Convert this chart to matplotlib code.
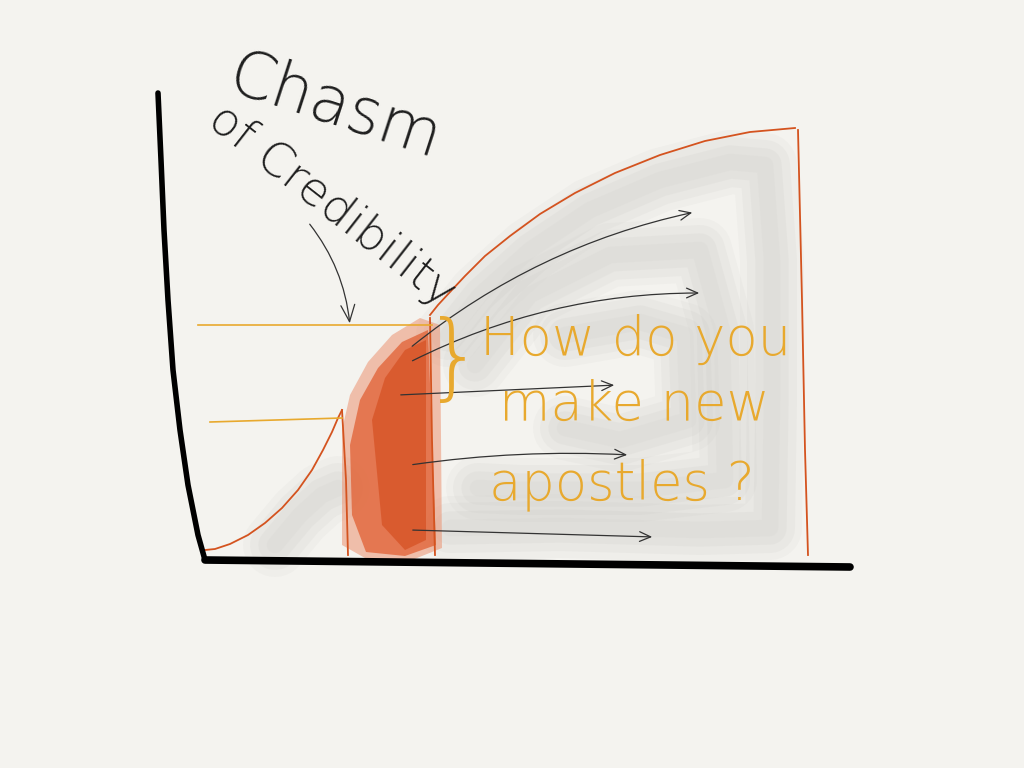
"""
Chasm of Credibility – hand-drawn style sketch recreated with matplotlib
"""

import numpy as np
import matplotlib.pyplot as plt
from matplotlib.patches import Polygon

# ── Sketch data (page coordinates, y grows downward) ─────────────────────────
y_axis_x = [158, 161, 164, 168, 173, 180, 188, 198, 205]
y_axis_y = [93, 160, 230, 300, 370, 430, 485, 535, 560]
x_axis_x = [205, 850]
x_axis_y = [560, 567]

early_x = [205, 215, 230, 248, 265, 282, 298, 312, 323, 332, 338, 342]
early_y = [550, 549, 544, 535, 523, 508, 490, 470, 450, 432, 418, 410]
early_drop_x = [342, 346, 348]
early_drop_y = [410, 480, 555]

main_x = [430, 438, 450, 465, 485, 510, 540, 575, 615, 660, 705, 750, 795]
main_y = [315, 305, 292, 276, 256, 236, 214, 193, 173, 155, 141, 132, 128]
main_drop_x = [798, 802, 805, 808]
main_drop_y = [130, 300, 450, 555]
chasm_edge_x = [430, 432, 435]
chasm_edge_y = [318, 440, 555]

level_hi_x, level_hi_y = [198, 432], [325, 325]
level_lo_x, level_lo_y = [210, 342], [422, 418]

arrow_start = [(410, 348), (410, 362), (398, 395), (410, 465), (410, 530)]
arrow_end = [(695, 212), (702, 293), (617, 385), (630, 455), (655, 537)]
arrow_bend = [-0.12, -0.12, 0.0, -0.05, 0.0]

question_lines = ["How do you", "make new", "apostles ?"]
question_y = [340, 405, 485]
question_x = [636, 634, 622]

# ── Style ─────────────────────────────────────────────────────────────────────
BG = "#f4f3ef"
INK = "#1e1e1e"
RUST = "#d4531f"
AMBER = "#e8a92e"
GREY = "#c4c3bf"

plt.rcParams.update({"font.family": "DejaVu Sans"})

fig = plt.figure(figsize=(10.24, 7.68), dpi=100, facecolor=BG)
ax = fig.add_axes([0, 0, 1, 1])
ax.set_xlim(0, 1024)
ax.set_ylim(768, 0)
ax.set_facecolor(BG)
ax.axis("off")

# ── Grey wash (spiral-ish brush strokes) ─────────────────────────────────────
wash_paths = [
    ([448, 480, 530, 590, 660, 730, 765, 772, 772, 770, 700, 560, 450],
     [335, 295, 250, 210, 180, 162, 165, 260, 400, 528, 530, 526, 528]),
    ([475, 530, 610, 700, 722, 725, 640, 520, 478],
     [365, 295, 255, 250, 330, 480, 490, 490, 488]),
    ([565, 640, 685, 688, 620, 565],
     [335, 322, 335, 420, 440, 428]),
    ([275, 300, 322, 338], [545, 515, 495, 488]),
]
for xs, ys in wash_paths:
    for lw, a in [(46, 0.10), (36, 0.13), (24, 0.14), (12, 0.10)]:
        ax.plot(xs, ys, color=GREY, lw=lw, alpha=a,
                solid_capstyle="round", solid_joinstyle="round", zorder=1)

# ── Chasm (red watercolour) ──────────────────────────────────────────────────
chasm_outer = [(342, 430), (350, 395), (368, 362), (392, 335), (420, 318),
               (440, 325), (442, 548), (412, 560), (365, 558), (342, 545)]
chasm_mid = [(350, 445), (360, 400), (378, 368), (402, 342), (428, 330),
             (436, 545), (405, 556), (366, 552), (352, 515)]
chasm_core = [(372, 420), (385, 378), (405, 350), (426, 340),
              (426, 540), (405, 550), (382, 525)]
ax.add_patch(Polygon(chasm_outer, closed=True, fc="#eb8a66", ec="none", alpha=0.5, zorder=2))
ax.add_patch(Polygon(chasm_mid, closed=True, fc="#e05a2c", ec="none", alpha=0.7, zorder=2))
ax.add_patch(Polygon(chasm_core, closed=True, fc="#d0400f", ec="none", alpha=0.5, zorder=2))

# ── Axes strokes ──────────────────────────────────────────────────────────────
ax.plot(y_axis_x, y_axis_y, color="black", lw=4, solid_capstyle="round", zorder=5)
ax.plot(x_axis_x, x_axis_y, color="black", lw=5.5, solid_capstyle="round", zorder=5)

# ── Adoption curve ────────────────────────────────────────────────────────────
for xs, ys in [(early_x, early_y), (early_drop_x, early_drop_y),
               (main_x, main_y), (main_drop_x, main_drop_y),
               (chasm_edge_x, chasm_edge_y)]:
    ax.plot(xs, ys, color=RUST, lw=1.3, zorder=4)

ax.plot(level_hi_x, level_hi_y, color=AMBER, lw=1.2, zorder=4)
ax.plot(level_lo_x, level_lo_y, color=AMBER, lw=1.2, zorder=4)

# ── Arrows out of the chasm ──────────────────────────────────────────────────
for (sx, sy), (ex, ey), rad in zip(arrow_start, arrow_end, arrow_bend):
    ax.annotate("", xy=(ex, ey), xytext=(sx, sy), zorder=6,
                arrowprops=dict(arrowstyle="->,head_length=0.8,head_width=0.35",
                                color="#333333", lw=0.9,
                                connectionstyle=f"arc3,rad={rad}"))

# arrow from the label into the chasm
ax.annotate("", xy=(350, 326), xytext=(308, 222), zorder=6,
            arrowprops=dict(arrowstyle="->,head_length=1.2,head_width=0.5",
                            color="#333333", lw=0.9,
                            connectionstyle="arc3,rad=-0.15"))

# ── Handwritten labels ────────────────────────────────────────────────────────
ax.text(335, 108, "Chasm", fontsize=46, color=INK, fontweight="light",
        rotation=-18, ha="center", va="center", zorder=7)
ax.text(332, 206, "of Credibility", fontsize=34, color=INK, fontweight="light",
        rotation=-38, ha="center", va="center", zorder=7)

for txt, tx, ty in zip(question_lines, question_x, question_y):
    ax.text(tx, ty, txt, fontsize=38, color=AMBER, fontweight="light",
            ha="center", va="center", zorder=7)

ax.text(454, 362, "}", fontsize=68, color=AMBER, fontweight="light",
        ha="center", va="center", zorder=7)

fig.savefig("out.png", dpi=100, facecolor=BG)
